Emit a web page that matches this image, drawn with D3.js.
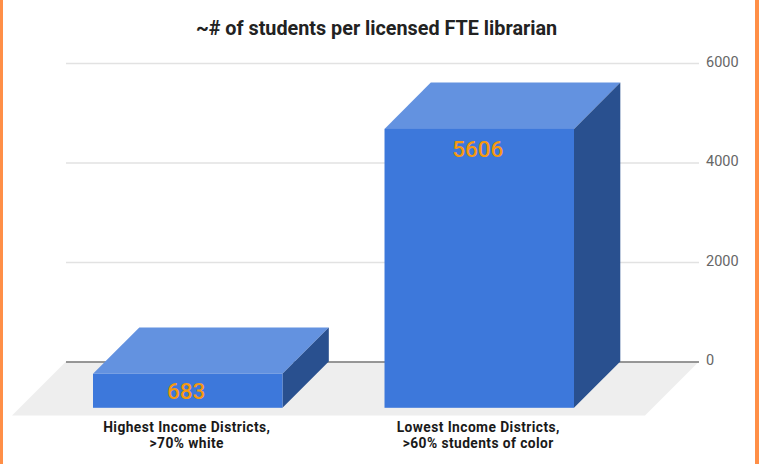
<!DOCTYPE html>
<html>
<head>
<meta charset="utf-8">
<script src="https://cdnjs.cloudflare.com/ajax/libs/d3/7.8.5/d3.min.js"></script>
<style>
    html, body { margin: 0; padding: 0; background: #fff; }
    svg { display: block; }
    text { font-family: Roboto, sans-serif; }
</style>
</head>
<body>
<div id="chart"></div>
<script>
// data
const categories = ['Highest Income Districts,|>70% white', 'Lowest Income Districts,|>60% students of color']
const students = [683, 5606]
const yTicks = [0, 2000, 4000, 6000]
const title = '~# of students per licensed FTE librarian'

const svgWidth = 759
const svgHeight = 464

// how far the back wall sits from the front of the bars
const depth = 46.3
const floorDepth = 54

const svg = d3.select('#chart')
    .append('svg')
    .attr('width', svgWidth)
    .attr('height', svgHeight)

// orange page edges
svg.append('rect').attr('x', 0).attr('y', 0).attr('width', 3).attr('height', svgHeight).attr('fill', '#ff8f47')
svg.append('rect').attr('x', 755).attr('y', 0).attr('width', 4).attr('height', svgHeight).attr('fill', '#ff8f47')

// scales, y is on the back wall
const y = d3.scaleLinear()
    .domain([0, 6000])
    .range([361.5, 63])

const x = d3.scaleBand()
    .domain(categories)
    .range([93, 574])
    .paddingInner(0.35)

const wallLeft = 66
const wallRight = 699

// floor
svg.append('path')
    .attr('d', d3.line()([
        [wallLeft, y(0)],
        [wallRight, y(0)],
        [wallRight - floorDepth, y(0) + floorDepth],
        [wallLeft - floorDepth, y(0) + floorDepth]
    ]) + 'Z')
    .attr('fill', '#eeeeee')

// gridlines and tick labels
const yAxis = d3.axisRight(y)
    .tickValues(yTicks)
    .tickSize(wallRight - wallLeft)
    .tickPadding(7)
    .tickFormat(d3.format('d'))

const axis = svg.append('g')
    .attr('transform', `translate(${wallLeft},0)`)
    .call(yAxis)

axis.select('.domain').remove()
axis.selectAll('.tick line')
    .attr('stroke', d => d === 0 ? '#777777' : '#e2e2e2')
    .attr('stroke-width', 1.3)
axis.selectAll('.tick text')
    .attr('fill', '#666666')
    .attr('font-size', 14.5)
    .attr('y', -1.5)
    .style('font-family', 'Roboto, sans-serif')

// bars
const bars = svg.append('g')
    .selectAll('g')
    .data(categories.map((c, i) => ({ category: c, value: students[i] })))
    .join('g')

const barLeft = d => x(d.category)
const barRight = d => x(d.category) + x.bandwidth()
const barTop = d => y(d.value) + depth
const barBottom = () => y(0) + depth

// top face
bars.append('path')
    .attr('d', d => d3.line()([
        [barLeft(d), barTop(d)],
        [barRight(d), barTop(d)],
        [barRight(d) + depth, barTop(d) - depth],
        [barLeft(d) + depth, barTop(d) - depth]
    ]) + 'Z')
    .attr('fill', '#6392e0')

// side face
bars.append('path')
    .attr('d', d => d3.line()([
        [barRight(d), barTop(d)],
        [barRight(d) + depth, barTop(d) - depth],
        [barRight(d) + depth, barBottom() - depth],
        [barRight(d), barBottom()]
    ]) + 'Z')
    .attr('fill', '#29508f')

// front face
bars.append('rect')
    .attr('x', barLeft)
    .attr('y', barTop)
    .attr('width', x.bandwidth())
    .attr('height', d => barBottom() - barTop(d))
    .attr('fill', '#3d78db')

// value labels
bars.append('text')
    .attr('x', d => barLeft(d) + x.bandwidth() / 2 - 1.5)
    .attr('y', d => Math.min(barTop(d) + 20, (barTop(d) + barBottom()) / 2))
    .attr('dy', '0.35em')
    .attr('text-anchor', 'middle')
    .attr('font-size', 22.5)
    .attr('font-weight', 500)
    .attr('fill', '#f6990f')
    .text(d => d.value)

// category labels, one text per line so they can't collide
const labelLines = bars.selectAll('text.cat')
    .data(d => d.category.split('|').map(t => ({ t, cx: barLeft(d) + x.bandwidth() / 2 - 1 })))
    .join('text')
    .attr('class', 'cat')
    .attr('x', d => d.cx)
    .attr('y', (d, i) => 432 + i * 16.4)
    .attr('text-anchor', 'middle')
    .attr('font-size', 13.8)
    .attr('letter-spacing', 0.42)
    .attr('font-weight', 700)
    .attr('fill', '#1a1a1a')
    .text(d => d.t)

// title
svg.append('text')
    .attr('x', 376.5)
    .attr('y', 35)
    .attr('text-anchor', 'middle')
    .attr('font-size', 19.8)
    .attr('font-weight', 700)
    .attr('fill', '#222222')
    .text(title)
</script>
</body>
</html>
